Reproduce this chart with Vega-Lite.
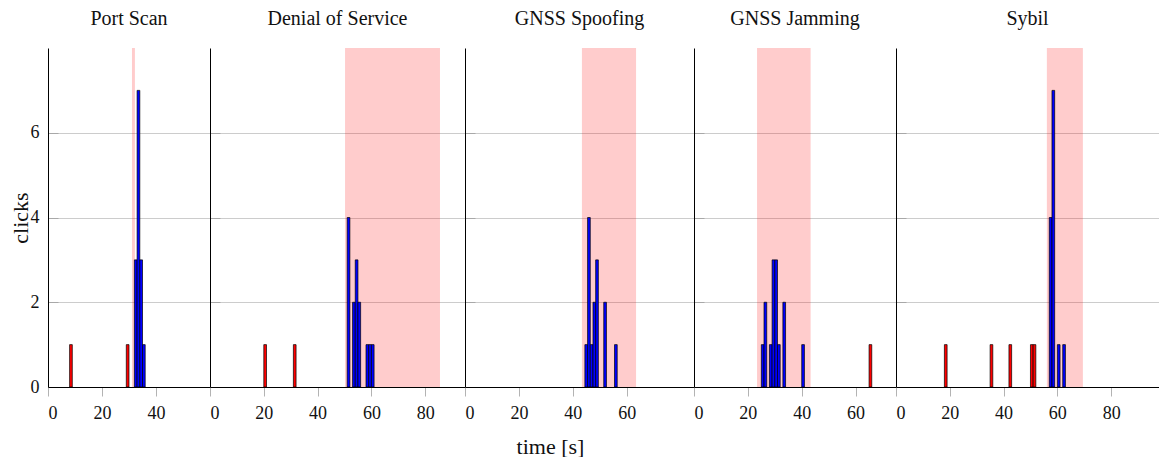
{
  "$schema": "https://vega.github.io/schema/vega-lite/v6.json",
  "padding": {"left": 9, "top": 9, "right": 0, "bottom": 0},
  "background": "white",
  "datasets": {
    "clicks": [
      {"panel": "Port Scan", "t0": 8, "t1": 9, "n": 1, "type": "benign"},
      {"panel": "Port Scan", "t0": 29, "t1": 30, "n": 1, "type": "benign"},
      {"panel": "Port Scan", "t0": 32, "t1": 33, "n": 3, "type": "attack"},
      {"panel": "Port Scan", "t0": 33, "t1": 34, "n": 7, "type": "attack"},
      {"panel": "Port Scan", "t0": 34, "t1": 35, "n": 3, "type": "attack"},
      {"panel": "Port Scan", "t0": 35, "t1": 36, "n": 1, "type": "attack"},
      {"panel": "Denial of Service", "t0": 20, "t1": 21, "n": 1, "type": "benign"},
      {"panel": "Denial of Service", "t0": 31, "t1": 32, "n": 1, "type": "benign"},
      {"panel": "Denial of Service", "t0": 51, "t1": 52, "n": 4, "type": "attack"},
      {"panel": "Denial of Service", "t0": 53, "t1": 54, "n": 2, "type": "attack"},
      {"panel": "Denial of Service", "t0": 54, "t1": 55, "n": 3, "type": "attack"},
      {"panel": "Denial of Service", "t0": 55, "t1": 56, "n": 2, "type": "attack"},
      {"panel": "Denial of Service", "t0": 58, "t1": 59, "n": 1, "type": "attack"},
      {"panel": "Denial of Service", "t0": 59, "t1": 60, "n": 1, "type": "attack"},
      {"panel": "Denial of Service", "t0": 60, "t1": 61, "n": 1, "type": "attack"},
      {"panel": "GNSS Spoofing", "t0": 44.5, "t1": 45.5, "n": 1, "type": "attack"},
      {"panel": "GNSS Spoofing", "t0": 45.5, "t1": 46.5, "n": 4, "type": "attack"},
      {"panel": "GNSS Spoofing", "t0": 46.5, "t1": 47.5, "n": 1, "type": "attack"},
      {"panel": "GNSS Spoofing", "t0": 47.5, "t1": 48.5, "n": 2, "type": "attack"},
      {"panel": "GNSS Spoofing", "t0": 48.5, "t1": 49.5, "n": 3, "type": "attack"},
      {"panel": "GNSS Spoofing", "t0": 51.5, "t1": 52.5, "n": 2, "type": "attack"},
      {"panel": "GNSS Spoofing", "t0": 55.5, "t1": 56.5, "n": 1, "type": "attack"},
      {"panel": "GNSS Jamming", "t0": 25, "t1": 26, "n": 1, "type": "attack"},
      {"panel": "GNSS Jamming", "t0": 26, "t1": 27, "n": 2, "type": "attack"},
      {"panel": "GNSS Jamming", "t0": 28, "t1": 29, "n": 1, "type": "attack"},
      {"panel": "GNSS Jamming", "t0": 29, "t1": 30, "n": 3, "type": "attack"},
      {"panel": "GNSS Jamming", "t0": 30, "t1": 31, "n": 3, "type": "attack"},
      {"panel": "GNSS Jamming", "t0": 31, "t1": 32, "n": 1, "type": "attack"},
      {"panel": "GNSS Jamming", "t0": 33, "t1": 34, "n": 2, "type": "attack"},
      {"panel": "GNSS Jamming", "t0": 40, "t1": 41, "n": 1, "type": "attack"},
      {"panel": "GNSS Jamming", "t0": 65, "t1": 66, "n": 1, "type": "benign"},
      {"panel": "Sybil", "t0": 18, "t1": 19, "n": 1, "type": "benign"},
      {"panel": "Sybil", "t0": 35, "t1": 36, "n": 1, "type": "benign"},
      {"panel": "Sybil", "t0": 42, "t1": 43, "n": 1, "type": "benign"},
      {"panel": "Sybil", "t0": 50, "t1": 51, "n": 1, "type": "benign"},
      {"panel": "Sybil", "t0": 51, "t1": 52, "n": 1, "type": "benign"},
      {"panel": "Sybil", "t0": 57, "t1": 58, "n": 4, "type": "attack"},
      {"panel": "Sybil", "t0": 58, "t1": 59, "n": 7, "type": "attack"},
      {"panel": "Sybil", "t0": 60, "t1": 61, "n": 1, "type": "attack"},
      {"panel": "Sybil", "t0": 62, "t1": 63, "n": 1, "type": "attack"}
    ],
    "bands": [
      {"panel": "Port Scan", "start": 31.1, "end": 32.2},
      {"panel": "Denial of Service", "start": 50.2, "end": 85.5},
      {"panel": "GNSS Spoofing", "start": 43.4, "end": 63.5},
      {"panel": "GNSS Jamming", "start": 23.4, "end": 43.3},
      {"panel": "Sybil", "start": 56.1, "end": 69.5}
    ]
  },
  "config": {
    "font": "Liberation Serif",
    "view": {"stroke": null},
    "axis": {
      "labelFont": "Liberation Serif", "labelFontSize": 18, "labelColor": "#111",
      "titleFont": "Liberation Serif", "titleFontSize": 22, "titleFontWeight": "normal", "titleColor": "#111",
      "domainColor": "#000", "domainWidth": 1,
      "gridColor": "#cccccc", "gridWidth": 1
    },
    "axisX": {"zindex": 1},
    "axisY": {"tickColor": "#a8a8a8", "tickSize": -10, "tickWidth": 1,
              "tickOpacity": {"condition": {"test": "datum.value === 0", "value": 0}, "value": 1}},
    "title": {"font": "Liberation Serif", "fontSize": 20, "fontWeight": "normal", "color": "#111", "anchor": "middle", "baseline": "alphabetic", "offset": 19},
    "concat": {"spacing": 0}
  },
  "bounds": "flush",
  "spacing": 0,
  "hconcat": [
    {
      "title": "Port Scan", "width": 162, "height": 339,
      "layer": [
        {"data": {"name": "bands"}, "transform": [{"filter": "datum.panel === 'Port Scan'"}],
         "mark": {"type": "rect", "color": "#ff0000", "opacity": 0.2},
         "encoding": {"x": {"field": "start", "type": "quantitative", "scale": {"domain": [0, 60], "nice": false, "zero": false},
                            "axis": {"values": [0, 20, 40], "title": null, "grid": false, "tickColor": "#b3b3b3", "tickSize": 9, "labelPadding": 8}},
                      "x2": {"field": "end"}}},
        {"data": {"name": "clicks"}, "transform": [{"filter": "datum.panel === 'Port Scan'"}],
         "mark": {"type": "bar", "stroke": "#000", "strokeWidth": 0.7},
         "encoding": {"x": {"field": "t0", "type": "quantitative"}, "x2": {"field": "t1"},
                      "y": {"field": "n", "type": "quantitative", "scale": {"domain": [0, 8], "nice": false},
                            "axis": {"values": [0, 2, 4, 6], "title": "clicks", "ticks": true, "labelPadding": 19, "grid": true, "titleBaseline": "alphabetic", "titleX": -20.7, "titleAngle": -90}},
                      "y2": {"datum": 0},
                      "color": {"field": "type", "type": "nominal", "scale": {"domain": ["benign", "attack"], "range": ["#ff0000", "#0000ff"]}, "legend": null}}}
      ]
    },
    {
      "title": "Denial of Service", "width": 255, "height": 339,
      "layer": [
        {"data": {"name": "bands"}, "transform": [{"filter": "datum.panel === 'Denial of Service'"}],
         "mark": {"type": "rect", "color": "#ff0000", "opacity": 0.2},
         "encoding": {"x": {"field": "start", "type": "quantitative", "scale": {"domain": [0, 94.8], "nice": false, "zero": false},
                            "axis": {"values": [0, 20, 40, 60, 80], "title": null, "grid": false, "tickColor": "#b3b3b3", "tickSize": 9, "labelPadding": 8}},
                      "x2": {"field": "end"}}},
        {"data": {"name": "clicks"}, "transform": [{"filter": "datum.panel === 'Denial of Service'"}],
         "mark": {"type": "bar", "stroke": "#000", "strokeWidth": 0.7},
         "encoding": {"x": {"field": "t0", "type": "quantitative"}, "x2": {"field": "t1"},
                      "y": {"field": "n", "type": "quantitative", "scale": {"domain": [0, 8], "nice": false},
                            "axis": {"values": [0, 2, 4, 6], "title": null, "labels": false, "ticks": true, "grid": true}},
                      "y2": {"datum": 0},
                      "color": {"field": "type", "type": "nominal", "scale": {"domain": ["benign", "attack"], "range": ["#ff0000", "#0000ff"]}, "legend": null}}}
      ]
    },
    {
      "title": "GNSS Spoofing", "width": 229, "height": 339,
      "layer": [
        {"data": {"name": "bands"}, "transform": [{"filter": "datum.panel === 'GNSS Spoofing'"}],
         "mark": {"type": "rect", "color": "#ff0000", "opacity": 0.2},
         "encoding": {"x": {"field": "start", "type": "quantitative", "scale": {"domain": [0, 85], "nice": false, "zero": false},
                            "axis": {"values": [0, 20, 40, 60], "title": "time [s]", "grid": false, "tickColor": "#b3b3b3", "tickSize": 9, "labelPadding": 8,
                                     "titleX": 85, "titleY": 66, "titleBaseline": "alphabetic", "titleAlign": "center"}},
                      "x2": {"field": "end"}}},
        {"data": {"name": "clicks"}, "transform": [{"filter": "datum.panel === 'GNSS Spoofing'"}],
         "mark": {"type": "bar", "stroke": "#000", "strokeWidth": 0.7},
         "encoding": {"x": {"field": "t0", "type": "quantitative"}, "x2": {"field": "t1"},
                      "y": {"field": "n", "type": "quantitative", "scale": {"domain": [0, 8], "nice": false},
                            "axis": {"values": [0, 2, 4, 6], "title": null, "labels": false, "ticks": true, "grid": true}},
                      "y2": {"datum": 0},
                      "color": {"field": "type", "type": "nominal", "scale": {"domain": ["benign", "attack"], "range": ["#ff0000", "#0000ff"]}, "legend": null}}}
      ]
    },
    {
      "title": "GNSS Jamming", "width": 202, "height": 339,
      "layer": [
        {"data": {"name": "bands"}, "transform": [{"filter": "datum.panel === 'GNSS Jamming'"}],
         "mark": {"type": "rect", "color": "#ff0000", "opacity": 0.2},
         "encoding": {"x": {"field": "start", "type": "quantitative", "scale": {"domain": [0, 75], "nice": false, "zero": false},
                            "axis": {"values": [0, 20, 40, 60], "title": null, "grid": false, "tickColor": "#b3b3b3", "tickSize": 9, "labelPadding": 8}},
                      "x2": {"field": "end"}}},
        {"data": {"name": "clicks"}, "transform": [{"filter": "datum.panel === 'GNSS Jamming'"}],
         "mark": {"type": "bar", "stroke": "#000", "strokeWidth": 0.7},
         "encoding": {"x": {"field": "t0", "type": "quantitative"}, "x2": {"field": "t1"},
                      "y": {"field": "n", "type": "quantitative", "scale": {"domain": [0, 8], "nice": false},
                            "axis": {"values": [0, 2, 4, 6], "title": null, "labels": false, "ticks": true, "grid": true}},
                      "y2": {"datum": 0},
                      "color": {"field": "type", "type": "nominal", "scale": {"domain": ["benign", "attack"], "range": ["#ff0000", "#0000ff"]}, "legend": null}}}
      ]
    },
    {
      "title": "Sybil", "width": 263, "height": 339,
      "layer": [
        {"data": {"name": "bands"}, "transform": [{"filter": "datum.panel === 'Sybil'"}],
         "mark": {"type": "rect", "color": "#ff0000", "opacity": 0.2},
         "encoding": {"x": {"field": "start", "type": "quantitative", "scale": {"domain": [0, 97.8], "nice": false, "zero": false},
                            "axis": {"values": [0, 20, 40, 60, 80], "title": null, "grid": false, "tickColor": "#b3b3b3", "tickSize": 9, "labelPadding": 8}},
                      "x2": {"field": "end"}}},
        {"data": {"name": "clicks"}, "transform": [{"filter": "datum.panel === 'Sybil'"}],
         "mark": {"type": "bar", "stroke": "#000", "strokeWidth": 0.7},
         "encoding": {"x": {"field": "t0", "type": "quantitative"}, "x2": {"field": "t1"},
                      "y": {"field": "n", "type": "quantitative", "scale": {"domain": [0, 8], "nice": false},
                            "axis": {"values": [0, 2, 4, 6], "title": null, "labels": false, "ticks": true, "grid": true}},
                      "y2": {"datum": 0},
                      "color": {"field": "type", "type": "nominal", "scale": {"domain": ["benign", "attack"], "range": ["#ff0000", "#0000ff"]}, "legend": null}}}
      ]
    }
  ]
}
